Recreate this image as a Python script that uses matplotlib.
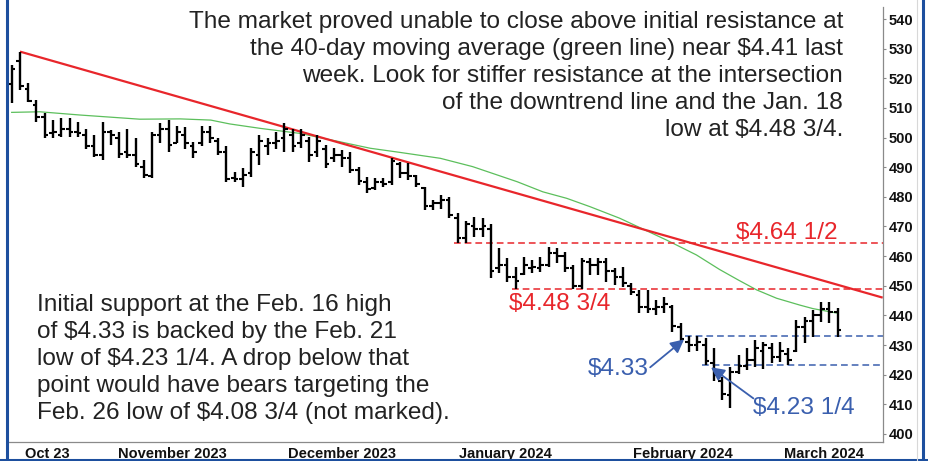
import matplotlib
matplotlib.use("Agg")
import matplotlib.pyplot as plt
from matplotlib.lines import Line2D

plt.rcParams['font.family'] = ['Liberation Sans', 'DejaVu Sans']

# ---------------- data ----------------
bar_index = list(range(1, 102))
highs = [524.5, 529, 518.4, 512.7, 508.3, 506, 506.6, 506.6, 505.3, 503,
         501, 505.3, 502.5, 502, 503, 500, 492.4, 502, 505, 506,
         504, 503.6, 498.6, 504, 504, 500, 497, 488.4, 489.7, 496.4,
         501, 500, 502, 505, 503, 503, 500.3, 501, 497.5, 496.4,
         495.8, 495.2, 490.2, 486.8, 486.3, 486.3, 493, 491.9, 491.4, 487.4,
         483.4, 479, 480.6, 480, 474.5, 472, 473.3, 473, 471, 462.7,
         459.4, 456.4, 459.8, 458.7, 459.8, 463, 462.6, 461.4, 457, 459.4,
         459.4, 459.4, 459.4, 456, 456.4, 451, 448.6, 448.6, 445.2, 446.2,
         443.5, 437.4, 433, 433, 432.4, 429, 419.2, 422.6, 426.6, 429,
         431.7, 431, 430.6, 431, 429, 438.4, 439.5, 441.8, 444.5, 444.5, 442.5]
lows = [511.7, 516, 512, 505.3, 500, 500, 500.3, 500.3, 500.3, 496,
        493.5, 492.4, 497.5, 493, 493, 490, 486.4, 486.4, 498, 495,
        498, 496, 493, 497, 498, 494, 485, 485, 483.3, 486.7,
        490.7, 494, 496, 495, 495, 496.5, 491.9, 493.5, 489.7, 491.7,
        490, 488, 484, 481.3, 482.3, 483.3, 484, 486.4, 485.7, 483.3,
        475.6, 475.6, 476, 473, 464.5, 464.5, 466.5, 466.5, 452.6, 454.3,
        451.3, 448.75, 453.6, 454.3, 454.6, 456.4, 457.7, 454.6, 448.75, 448.75,
        453.6, 453.6, 451.3, 450.3, 449.6, 447, 440.8, 440.8, 440.1, 440.8,
        434.4, 430.7, 427.6, 428, 423.25, 418, 411.5, 408.8, 420.4, 421.6,
        422.6, 422, 424, 424.3, 423.3, 427.6, 430.7, 432.7, 437.8, 437.4, 432.7]
opens = [518, 526, 516.5, 511, 507, 501.5, 501, 503, 502, 501,
         497, 494, 502, 500, 495, 494, 490, 487, 501, 503,
         498, 501, 497, 498, 502, 499, 495, 486.5, 486, 488,
         494, 497, 498, 500, 501, 498, 499, 495, 496, 493,
         494, 493, 489, 485, 483, 485, 485, 491, 488, 487,
         483, 477, 478, 479, 473, 466, 470, 469, 469, 456,
         457, 453, 454, 456, 456, 457, 461, 460, 456, 450,
         458, 457, 458, 455, 453, 450, 447, 443, 442, 443,
         443, 436, 431, 430, 430, 424, 418, 413, 421, 423,
         425, 428, 429, 426, 427, 428, 436, 438, 440, 442, 441]
closes = [523, 517.5, 512.5, 507, 501, 502, 503, 502, 501.5, 497,
          494, 502, 501, 494.5, 494, 491, 487.5, 501, 503, 497.5,
          502, 498, 495, 502, 500, 495, 486, 486, 487.5, 495,
          499, 498, 499, 503, 497, 501, 494, 499, 491, 494,
          493, 489, 485.5, 482.5, 485, 484.5, 492, 488, 487, 484.5,
          477, 478, 479, 474, 466, 471, 469, 470, 455, 457,
          453, 451.5, 457, 456.5, 457, 461, 460, 456, 450, 458.5,
          457, 458, 455, 453, 451, 448, 443, 442, 443, 444,
          436.5, 432, 430, 431, 424.5, 420, 413.5, 421, 423, 425,
          429, 430, 426, 428, 425, 436, 438, 440, 442, 441, 435]

# 40-day moving average
ma_x = [1.0, 4.4, 9.3, 16.5, 21.4, 25.1, 27.4, 31.1, 35.9, 40.7, 44.4, 48.0,
        52.9, 56.8, 62.2, 65.3, 68.2, 71.0, 74.6, 80.3, 83.9, 86.7, 89.0,
        91.2, 93.6, 96.4, 98.0, 100.9]
ma_values = [508.5, 508.7, 507.6, 506.2, 506.3, 505.9, 504.6, 503.1, 501.4,
             498.6, 496.4, 495.0, 493.0, 490.2, 485.1, 481.7, 479.5, 476.7,
             472.8, 465.4, 460.4, 455.5, 451.9, 448.6, 445.8, 443.5, 442.3, 440.8]

# downtrend line
trend_x = [2, 106.45]
trend_values = [529, 446]

# horizontal levels
resist_levels = [464.5, 448.75]
resist_start = [55, 62]
resist_labels = ["$4.64 1/2", "$4.48 3/4"]
support_levels = [433, 423.25]
support_start = [83, 85]
support_labels = ["$4.33", "$4.23 1/4"]

y_ticks = list(range(400, 541, 10))
month_pos = [5.3, 20.4, 41.0, 60.8, 82.3, 99.3]
month_labels = ['Oct 23', 'November 2023', 'December 2023', 'January 2024',
                'February 2024', 'March 2024']

top_lines = ["The market proved unable to close above initial resistance at",
             "the 40-day moving average (green line) near $4.41 last",
             "week. Look for stiffer resistance at the intersection",
             "of the downtrend line and the Jan. 18",
             "low at $4.48 3/4."]
bottom_lines = ["Initial support at the Feb. 16 high",
                "of $4.33 is backed by the Feb. 21",
                "low of $4.23 1/4. A drop below that",
                "point would have bears targeting the",
                "Feb. 26 low of $4.08 3/4 (not marked)."]

# ---------------- styling ----------------
W, H = 929, 461
RED = '#e8262b'
BLUE = '#3a5fae'
GREEN = '#5cbf5c'
FRAME = '#1d4f9e'
TXT = '#222222'
FS = 17.6

fig = plt.figure(figsize=(W / 100, H / 100), dpi=100)
ax = fig.add_axes([8 / W, 1 - 441.7 / H, (882.7 - 8) / W, (441.7 - 6.7) / H])
ax.set_xlim(0.552, 106.45)
ax.set_ylim(397.4, 544.15)

# OHLC bars
tick_w = 0.45
ax.vlines(bar_index, lows, highs, color='black', lw=1.7, zorder=3)
ax.hlines(opens, [i - tick_w for i in bar_index], bar_index, color='black', lw=1.5, zorder=3)
ax.hlines(closes, bar_index, [i + tick_w for i in bar_index], color='black', lw=1.5, zorder=3)

# moving average and trend line
ax.plot(ma_x, ma_values, color=GREEN, lw=0.9, zorder=2)
ax.plot(trend_x, trend_values, color=RED, lw=1.6, zorder=2, solid_capstyle='butt')

dash = (0, (4.4, 2.6))
xmax = 106.45
for lvl, st in zip(resist_levels, resist_start):
    ax.plot([st - 0.45, xmax], [lvl, lvl], color=RED, lw=1.1, ls=dash, zorder=2)
for lvl, st in zip(support_levels, support_start):
    ax.plot([st - 0.45, xmax], [lvl, lvl], color=BLUE, lw=1.1, ls=dash, zorder=2)

# level labels
ax.text(101.0, 467.8, resist_labels[0], color=RED, fontsize=FS, ha='right',
        va='center', parse_math=False)
ax.text(61.2, 443.8, resist_labels[1], color=RED, fontsize=FS, ha='left',
        va='center', parse_math=False)
ax.text(70.8, 421.8, support_labels[0], color=BLUE, fontsize=FS, ha='left',
        va='center', parse_math=False)
ax.text(90.8, 408.8, support_labels[1], color=BLUE, fontsize=FS, ha='left',
        va='center', parse_math=False)

# arrows
arw = dict(arrowstyle='-|>', color=BLUE, lw=1.3, mutation_scale=20,
           shrinkA=0, shrinkB=0)
ax.annotate('', xy=(82.4, 431.9), xytext=(78.3, 422.5), arrowprops=arw)
ax.annotate('', xy=(85.66, 422.5), xytext=(90.8, 412.0), arrowprops=arw)

# axes styling
for side in ['left', 'top']:
    ax.spines[side].set_visible(False)
ax.spines['right'].set_color('#8a8a8a')
ax.spines['bottom'].set_color('#8a8a8a')
ax.spines['right'].set_linewidth(0.9)
ax.spines['bottom'].set_linewidth(0.9)
ax.yaxis.tick_right()
ax.set_yticks(y_ticks)
ax.set_yticklabels([str(v) for v in y_ticks], fontsize=10.5, fontweight='bold')
ax.tick_params(axis='y', direction='out', length=2.5, width=0.8, color='#8a8a8a',
               pad=2, labelcolor='#111111')
ax.set_xticks(month_pos)
ax.set_xticklabels(month_labels, fontsize=10.5, fontweight='bold', color='#111111')
ax.tick_params(axis='x', length=0, pad=3.5)

# paragraph texts
def ftxt(xpx, ypx, s, **kw):
    fig.text(xpx / W, 1 - ypx / H, s, parse_math=False, **kw)

for k, line in enumerate(top_lines):
    ftxt(843, 28 + 27 * k, line, fontsize=FS, color=TXT, ha='right', va='baseline')
for k, line in enumerate(bottom_lines):
    ftxt(37, 311 + 27 * k, line, fontsize=FS, color=TXT, ha='left', va='baseline')

# blue frame
fig.add_artist(Line2D([7 / W, 7 / W], [0, 1], color=FRAME, lw=2.2))
fig.add_artist(Line2D([923 / W, 923 / W], [0, 1], color=FRAME, lw=2.2))
fig.add_artist(Line2D([0, 1], [1 - 459.8 / H, 1 - 459.8 / H], color=FRAME, lw=2.2))
fig.add_artist(Line2D([917 / W, 917 / W], [0, 1], color='#d8d8d8', lw=0.8))

fig.savefig('out.png', dpi=100)
